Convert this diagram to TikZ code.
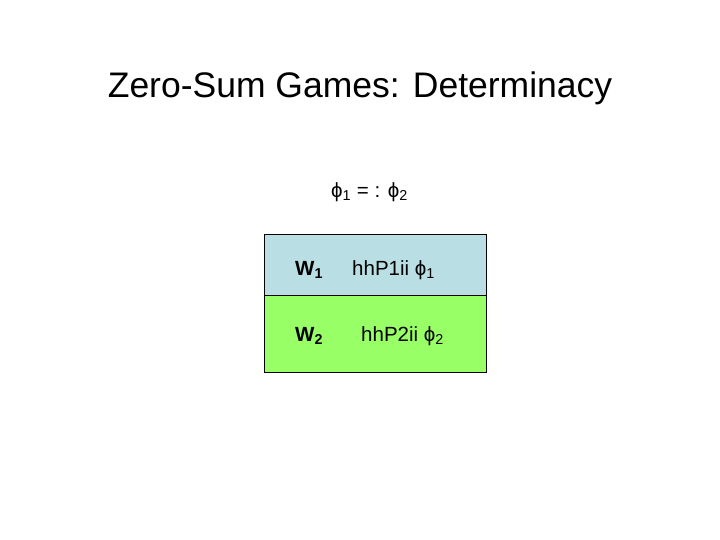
\documentclass[tikz,border=0pt]{standalone}
\usepackage{fontspec}
\setmainfont{Liberation Sans}
\definecolor{cblue}{RGB}{185,222,227}
\definecolor{cgreen}{RGB}{153,255,102}
\begin{document}
\begin{tikzpicture}[x=1pt,y=-1pt,
  lbl/.style={font=\fontsize{20.5}{24}\selectfont, inner sep=0pt, anchor=base west},
  cell/.style={draw=black, line width=0.6pt}]
\useasboundingbox (0,0) rectangle (720,540);
\node[font=\fontsize{35.5}{40}\selectfont, inner sep=0pt] (title) at (360,88) {Zero-Sum Games: Determinacy};
\node[lbl] (eq) at (331,197) {ϕ\textsubscript{1} = : ϕ\textsubscript{2}};
\path[cell, fill=cblue] (264,234) rectangle (486,295) coordinate (b1);
\path[cell, fill=cgreen] (264,295) rectangle (486,372) coordinate (b2);
\node[lbl, font=\fontsize{20.5}{24}\selectfont\bfseries] (w1) at (295,275) {W\textsubscript{1}};
\node[lbl] (p1) at (352,275) {hhP1ii ϕ\textsubscript{1}};
\node[lbl, font=\fontsize{20.5}{24}\selectfont\bfseries] (w2) at (295,341) {W\textsubscript{2}};
\node[lbl] (p2) at (361,341) {hhP2ii ϕ\textsubscript{2}};
\end{tikzpicture}
\end{document}
